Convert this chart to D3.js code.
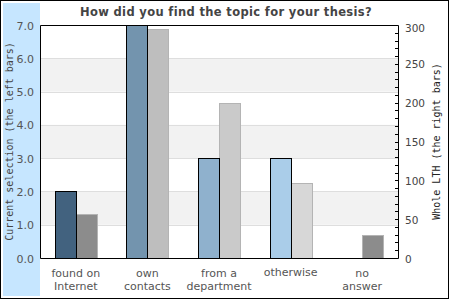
<!DOCTYPE html>
<html><head><meta charset="utf-8">
<script src="https://cdn.jsdelivr.net/npm/d3@7"></script>
<style>body{margin:0;background:#fff}svg{display:block}</style>
</head><body>
<script>
const categories = [["found on","Internet"],["own","contacts"],["from a","department"],["otherwise"],["no","answer"]];
const currentValues = [2, 7, 3, 3, 0];
const wholeValues = [57, 295, 200, 96, 29];
const leftColors = ["#42627f","#7394ae","#8fb1cd","#aacde9","#c6e4ff"];
const rightColors = ["#8c8c8c","#bebebe","#cacaca","#d7d7d7","#8c8c8c"];
const leftTicks = [0,1,2,3,4,5,6,7];
const rightTicks = [0,50,100,150,200,250,300];

const W=450,H=300;
const m={l:40,r:398,t:25,b:258};
const svg=d3.select("body").append("svg").attr("width",W).attr("height",H);
svg.append("rect").attr("x",0).attr("y",0).attr("width",W).attr("height",H).attr("fill","#fff");
svg.append("rect").attr("x",3).attr("y",3).attr("width",37).attr("height",293).attr("fill","#c6e6ff");
svg.append("rect").attr("x",0.5).attr("y",0.5).attr("width",448).attr("height",298).attr("fill","none").attr("stroke","#000");

const x=d3.scaleBand().domain(d3.range(categories.length)).range([m.l,m.r]);
const yL=d3.scaleLinear().domain([0,7]).range([m.b,m.t]);
const yR=d3.scaleLinear().domain([0,300]).range([m.b,m.t]);

// bands
[[5,6],[3,4],[1,2]].forEach(([a,b])=>{
  svg.append("rect").attr("x",m.l).attr("width",m.r-m.l).attr("y",yL(b)).attr("height",yL(a)-yL(b)).attr("fill","#f2f2f2");
});
leftTicks.slice(1,-1).forEach(t=>{
  svg.append("line").attr("x1",m.l).attr("x2",m.r).attr("y1",Math.round(yL(t))+0.5).attr("y2",Math.round(yL(t))+0.5).attr("stroke","#dedede");
});

const bw=21;
svg.selectAll(".rb").data(wholeValues).enter().append("rect")
  .attr("x",(d,i)=>Math.round(x(i)+x.bandwidth()/2)+0.5)
  .attr("width",bw).attr("y",d=>Math.round(yR(d))+0.5).attr("height",d=>m.b-Math.round(yR(d)))
  .attr("fill",(d,i)=>rightColors[i]).attr("stroke","#b4b4b4");
currentValues.forEach((d,i)=>{
  if(d<=0) return;
  svg.append("rect")
    .attr("x",Math.round(x(i)+x.bandwidth()/2)-bw+0.5)
    .attr("width",bw).attr("y",Math.round(yL(d))+0.5).attr("height",m.b-Math.round(yL(d)))
    .attr("fill",leftColors[i]).attr("stroke","#000");
});

// frame
svg.append("path").attr("d",`M${m.l+0.5},${m.b+0.5}V${m.t+0.5}H${m.r+0.5}V${m.b+0.5}H${m.l+0.5}`).attr("fill","none").attr("stroke","#000");

const font="DejaVu Sans, sans-serif";
svg.selectAll(".lt").data(leftTicks).enter().append("text")
  .attr("x",34).attr("y",d=>yL(d)+4.5).attr("text-anchor","end")
  .attr("font-family",font).attr("font-size",11).attr("fill","#555").text(d=>d.toFixed(1));
svg.selectAll(".rt").data(d3.range(0,301,10)).enter().append("line")
  .attr("x1",395).attr("x2",398).attr("y1",d=>Math.round(yR(d))+0.5).attr("y2",d=>Math.round(yR(d))+0.5).attr("stroke","#000");
svg.selectAll(".rtl").data(rightTicks).enter().append("text")
  .attr("x",405).attr("y",d=>yR(d)+(d===300?6.5:4.5)).attr("font-family",font).attr("font-size",10.5).attr("fill","#444").text(d=>d);

categories.forEach((c,i)=>{
  const cx=x(i)+x.bandwidth()/2;
  c.forEach((line,j)=>{
    svg.append("text").attr("x",cx).attr("y",(c.length===1?276:277)+j*12.5).attr("text-anchor","middle")
      .attr("font-family",font).attr("font-size",11).attr("fill","#555").text(line);
  });
});

svg.append("text").attr("x",226).attr("y",16).attr("text-anchor","middle").attr("font-family",font)
  .attr("font-weight","bold").attr("font-size",11.5).attr("fill","#444").attr("letter-spacing",0.35)
  .text("How did you find the topic for your thesis?");
const mono="DejaVu Sans Mono, monospace";
svg.append("text").attr("transform",`translate(13,${(m.t+m.b)/2}) rotate(-90)`).attr("text-anchor","middle")
  .attr("font-family",mono).attr("font-size",10).attr("fill","#444").text("Current selection (the left bars)");
svg.append("text").attr("transform",`translate(440,${(m.t+m.b)/2}) rotate(-90)`).attr("text-anchor","middle")
  .attr("font-family",mono).attr("font-size",10).attr("fill","#222").text("Whole LTH (the right bars)");
</script>
</body></html>
